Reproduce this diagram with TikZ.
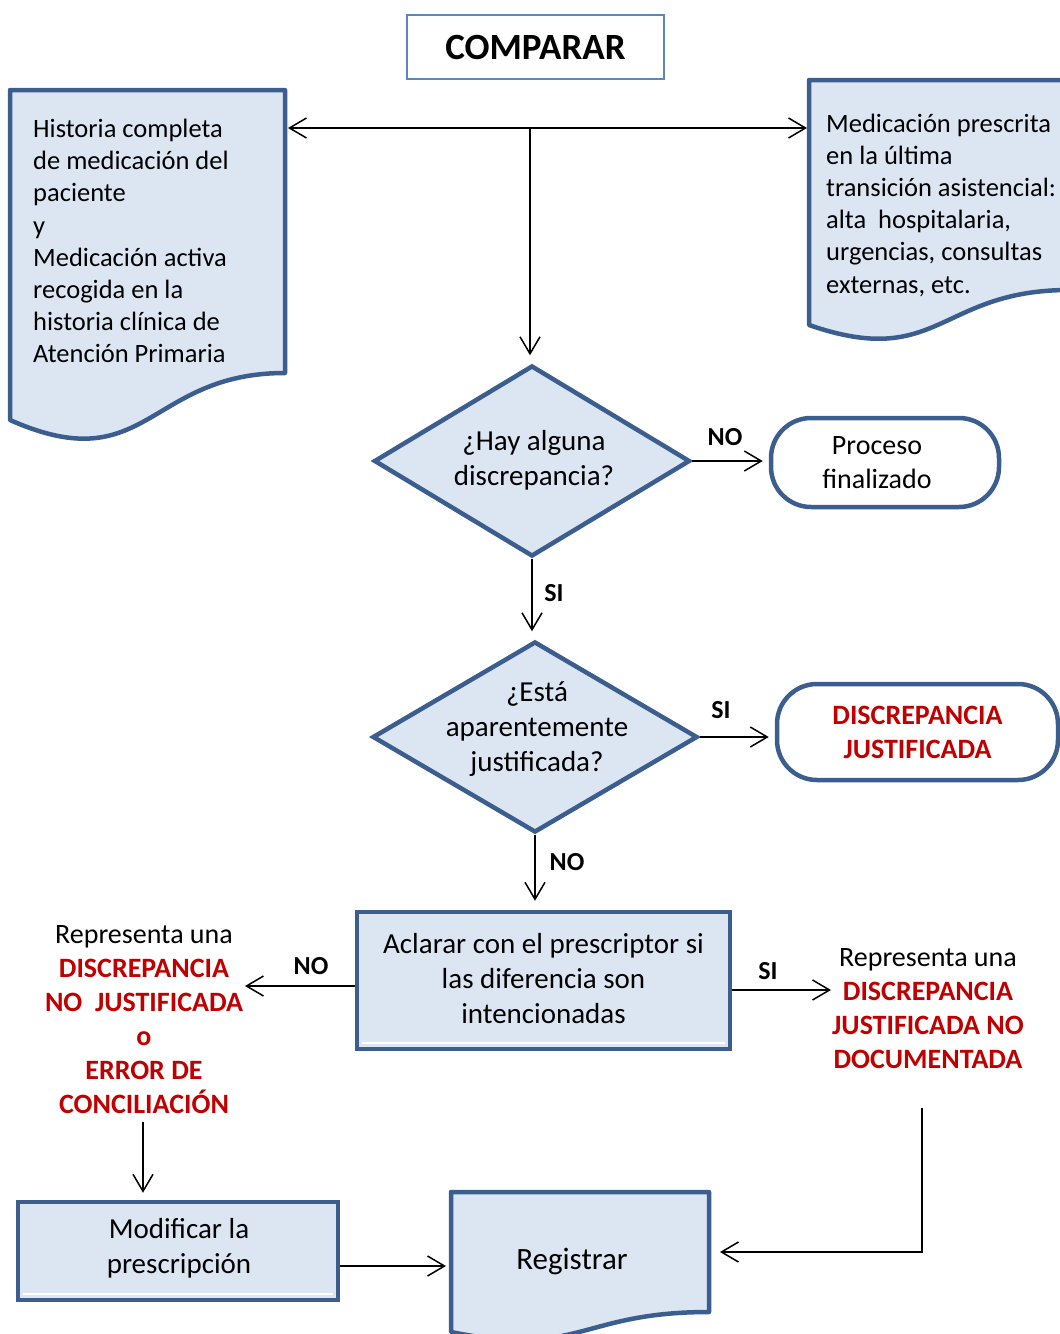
\documentclass[tikz,border=0pt]{standalone}
\usepackage{fontspec}
\setmainfont{Carlito}
\usetikzlibrary{arrows.meta,shapes.geometric}
\definecolor{bord}{HTML}{3B5E8F}
\definecolor{fillb}{HTML}{DCE6F2}
\definecolor{redt}{HTML}{C00000}
\definecolor{compb}{HTML}{5B86C0}
\newcommand\fdoc{\fontsize{26.5}{32.2}\selectfont}
\newcommand\fbig{\fontsize{29}{35}\selectfont}
\newcommand\fmid{\fontsize{28}{34}\selectfont}
\newcommand\flab{\fontsize{26}{30}\selectfont\bfseries}
\newcommand\ftitle{\fontsize{37}{40}\selectfont\bfseries}
\newcommand\freg{\fontsize{31}{36}\selectfont}
\begin{document}
\begin{tikzpicture}[x=1pt,y=-1pt,
  arr/.style={draw=black, line width=1.5pt, -{Straight Barb[length=17pt,width=20pt,line width=1.5pt]}},
  arrtwo/.style={draw=black, line width=1.5pt, {Straight Barb[length=17pt,width=20pt,line width=1.5pt]}-{Straight Barb[length=17pt,width=20pt,line width=1.5pt]}},
  docfill/.style={fill=fillb, draw=bord, line width=4.5pt, line join=round},
  procbox/.style={rectangle, fill=fillb, draw=bord, line width=4.5pt, inner sep=0, align=center, font=\fbig},
  term/.style={rectangle, rounded corners=40pt, fill=white, draw=bord, line width=4.5pt, inner sep=0, align=center},
  decision/.style={diamond, fill=fillb, draw=bord, line width=4.5pt, inner sep=0},
  ghost/.style={rectangle, inner sep=0, outer sep=0},
  txt/.style={inner sep=0, align=center},
  lbl/.style={inner sep=0, font=\flab}]
\useasboundingbox (0,0) rectangle (1060,1334);
\clip (0,0) rectangle (1060,1334);

% title
\node[draw=compb, line width=2pt, fill=white, minimum width=257, minimum height=64, inner sep=0, font=\ftitle] (cmp) at (535.5,47) {COMPARAR};

% left document
\draw[docfill] (10,90) -- (285,90) -- (285,373) .. controls (147.5,373) and (147.5,481) .. (10,420) -- cycle;
\node[ghost, minimum width=275, minimum height=283] (ldocb) at (147.5,231.5) {};
\node[txt, align=left, font=\fdoc, anchor=west] (ldoc) at (33,241) {Historia completa\\de medicación del\\paciente\\y\\Medicación activa\\recogida en la\\historia clínica de\\Atención Primaria};

% right document
\draw[docfill] (809,80) -- (1069,80) -- (1069,290) .. controls (939,290) and (939,370) .. (809,325) -- cycle;
\node[ghost, minimum width=260, minimum height=210] (rdocb) at (939,185) {};
\node[txt, align=left, font=\fdoc, anchor=west] (rdoc) at (826,205) {Medicación prescrita\\en la última\\transición asistencial:\\alta\ \ hospitalaria,\\urgencias, consultas\\externas, etc.};

% decisions
\node[decision, minimum width=316, minimum height=191] (d1) at (532,461) {};
\node[txt, font=\fbig] (d1t) at (534,460.5) {¿Hay alguna\\discrepancia?};
\node[decision, minimum width=325, minimum height=191] (d2) at (535,737) {};
\node[txt, font=\fbig] (d2t) at (537,729) {¿Está\\aparentemente\\justificada?};

% terminals
\node[term, minimum width=228, minimum height=89] (pf) at (885,462.5) {};
\node[txt, font=\fmid] (pft) at (877,463) {Proceso\\finalizado};
\node[term, minimum width=281, minimum height=96, font=\fmid\bfseries, text=redt] (dj) at (917.5,732) {DISCREPANCIA\\JUSTIFICADA};

% process boxes
\node[procbox, minimum width=373, minimum height=137] (acl) at (543.5,980.5) {};
\node[txt, font=\fbig] (aclt) at (543.5,978.5) {Aclarar con el prescriptor si\\las diferencia son\\intencionadas};
\draw[white, line width=2pt] (362,1043) -- (725,1043);
\node[procbox, minimum width=320, minimum height=98] (mod) at (178,1251) {};
\node[txt, font=\fbig] (modt) at (179,1248) {Modificar la\\prescripción};
\draw[white, line width=2pt] (23,1294) -- (333,1294);

% registrar document
\draw[docfill] (451,1192) -- (709,1192) -- (709,1312) .. controls (580,1312) and (580,1358) .. (451,1332) -- cycle;
\node[ghost, minimum width=258, minimum height=120] (regb) at (580,1252) {};
\node[txt, font=\freg] (reg) at (572,1261) {Registrar};

% outcome texts
\node[txt, font=\fmid] (lres) at (144,1020) {Representa una\\{\bfseries\color{redt}DISCREPANCIA}\\{\bfseries\color{redt}NO\ \ JUSTIFICADA}\\{\bfseries\color{redt}o}\\{\bfseries\color{redt}ERROR DE}\\{\bfseries\color{redt}CONCILIACIÓN}};
\node[txt, font=\fmid] (rres) at (928,1009) {Representa una\\{\bfseries\color{redt}DISCREPANCIA}\\{\bfseries\color{redt}JUSTIFICADA NO}\\{\bfseries\color{redt}DOCUMENTADA}};

% connectors
\coordinate (hub) at (530,128);
\draw[arrtwo, shorten <=3pt, shorten >=2pt] (ldocb.east |- hub) -- (rdocb.west |- hub);
\draw[arr, shorten >=8pt] (hub) -- (hub |- d1.north);
\draw[arr, shorten >=6pt] (d1.east) -- (d1.east -| pf.west);
\node[lbl] (l1) at (725,437) {NO};
\draw[arr, shorten >=8pt] (d1.south) -- (d1.south |- d2.north);
\node[lbl] (l2) at (554,593) {SI};
\draw[arr, shorten >=6pt] (d2.east) -- (d2.east -| dj.west);
\node[lbl] (l3) at (721,710) {SI};
\draw[arr, shorten >=9pt] (d2.south) -- (d2.south |- acl.north);
\node[lbl] (l4) at (567,862) {NO};
\coordinate (ltip) at (245,986);
\draw[arr] (acl.west |- ltip) -- (ltip);
\node[lbl] (l5) at (311,966) {NO};
\coordinate (rtip) at (831,990);
\draw[arr] (acl.east |- rtip) -- (rtip);
\node[lbl] (l6) at (768,971) {SI};
\coordinate (lstart) at (143,1122);
\draw[arr, shorten >=7pt] (lstart) -- (lstart |- mod.north);
\coordinate (mrow) at (334,1266);
\draw[arr, shorten >=5pt] (mod.east |- mrow) -- (mrow -| regb.west);
\coordinate (rstart) at (922,1108);
\draw[arr, shorten >=11pt] (rstart) |- (regb.east);
\end{tikzpicture}
\end{document}
